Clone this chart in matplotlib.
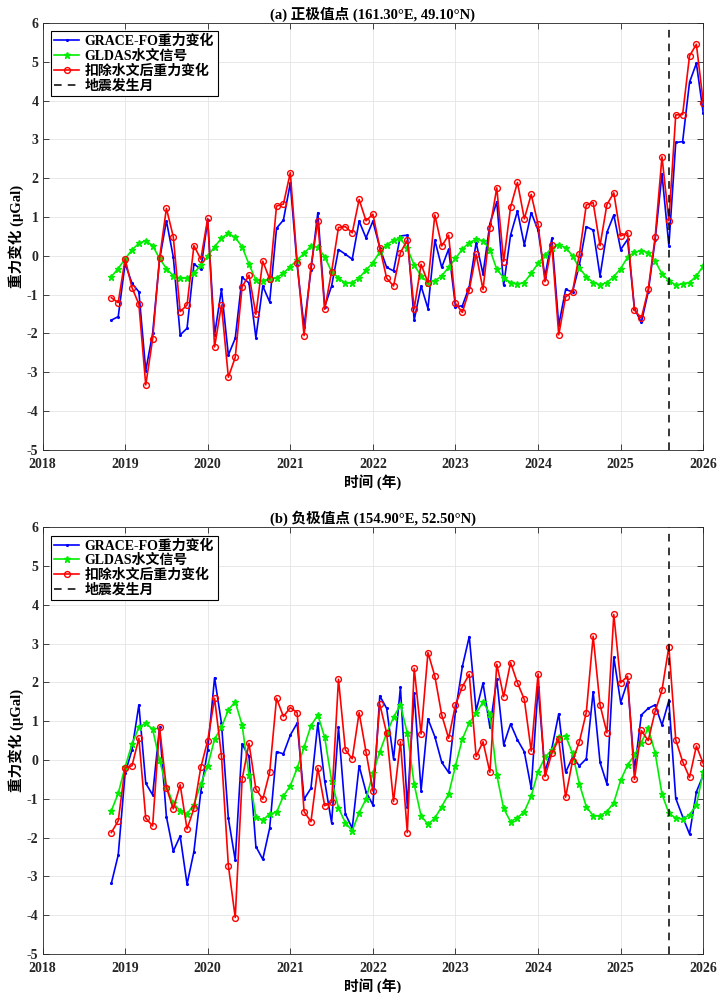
import numpy as np
import pandas as pd
import matplotlib
matplotlib.use('Agg')
import matplotlib.pyplot as plt

plt.rcParams['font.family'] = ['Liberation Serif', 'Noto Sans CJK SC', 'DejaVu Sans']
plt.rcParams['font.weight'] = 'bold'
plt.rcParams['axes.unicode_minus'] = False

# 月份 (Oct 2018 - Dec 2025)
months = pd.period_range('2018-10', '2025-12', freq='M')
eq_month = pd.Period('2025-07', freq='M')

# (a) 正极值点
grace_a = [-1.66, -1.57, -0.20, -0.71, -0.93, -2.96, -2.00, -0.11, 0.90, -0.03,
           -2.04, -1.87, -0.21, -0.35, 0.92, -2.04, -0.87, -2.56, -2.13, -0.56,
           -0.70, -2.11, -0.78, -1.19, 0.71, 0.92, 1.87, -0.25, -1.83, -0.37,
           1.11, -1.31, -0.78, 0.16, 0.04, -0.09, 0.89, 0.46, 0.89, 0.21,
           -0.30, -0.39, 0.51, 0.53, -1.66, -0.78, -1.36, 0.40, -0.30, 0.17,
           -1.31, -1.29, -0.80, 0.34, -0.47, 0.83, 1.39, -0.76, 0.53, 1.15,
           0.28, 1.11, 0.66, -0.54, 0.45, -1.79, -0.87, -0.93, -0.24, 0.75,
           0.66, -0.52, 0.60, 1.05, 0.16, 0.42, -1.36, -1.72, -0.93, 0.40,
           2.11, 0.26, 2.92, 2.94, 4.47, 4.96, 3.67]
gldas_a = [-0.54, -0.33, -0.08, 0.15, 0.32, 0.39, 0.26, -0.07, -0.33, -0.52,
           -0.58, -0.58, -0.45, -0.24, -0.01, 0.23, 0.45, 0.58, 0.47, 0.23,
           -0.22, -0.63, -0.64, -0.60, -0.57, -0.45, -0.28, -0.11, 0.06, 0.25,
           0.22, -0.03, -0.41, -0.57, -0.71, -0.69, -0.57, -0.37, -0.18, 0.10,
           0.28, 0.40, 0.45, 0.19, -0.24, -0.52, -0.69, -0.65, -0.52, -0.30,
           -0.07, 0.17, 0.34, 0.42, 0.39, 0.16, -0.35, -0.57, -0.69, -0.73,
           -0.69, -0.45, -0.20, 0.02, 0.19, 0.28, 0.21, 0.00, -0.32, -0.54,
           -0.69, -0.75, -0.69, -0.54, -0.33, -0.04, 0.09, 0.13, 0.08, -0.13,
           -0.47, -0.64, -0.76, -0.72, -0.69, -0.52, -0.26]
resid_a = [-1.08, -1.21, -0.08, -0.82, -1.25, -3.33, -2.15, -0.07, 1.22, 0.49,
           -1.44, -1.27, 0.26, -0.09, 0.96, -2.35, -1.27, -3.13, -2.62, -0.80,
           -0.50, -1.51, -0.14, -0.60, 1.28, 1.33, 2.14, -0.18, -2.06, -0.27,
           0.89, -1.38, -0.41, 0.73, 0.75, 0.59, 1.45, 0.90, 1.07, 0.21,
           -0.58, -0.78, 0.08, 0.40, -1.37, -0.22, -0.69, 1.05, 0.25, 0.53,
           -1.23, -1.46, -0.88, 0.04, -0.87, 0.71, 1.75, -0.15, 1.25, 1.89,
           0.95, 1.58, 0.81, -0.67, 0.28, -2.04, -1.06, -0.93, 0.04, 1.31,
           1.37, 0.26, 1.32, 1.62, 0.51, 0.59, -1.40, -1.61, -0.87, 0.47,
           2.55, 0.90, 3.63, 3.64, 5.15, 5.45, 3.94]

# (b) 负极值点
grace_b = [-3.18, -2.45, -0.34, 0.26, 1.42, -0.60, -0.90, 0.84, -1.46, -2.35,
           -1.96, -3.20, -2.36, -0.82, 0.26, 2.12, 0.95, -1.50, -2.58, 0.41,
           0.09, -2.23, -2.56, -1.76, 0.21, 0.16, 0.64, 0.95, -1.01, -0.73,
           0.95, -0.55, -1.62, 0.84, -1.39, -1.76, -0.15, -0.82, -1.16, 1.65,
           1.33, 0.02, 1.87, -1.20, 1.73, -0.79, 1.06, 0.60, -0.06, -0.32,
           1.25, 2.41, 3.18, 1.27, 1.98, 0.84, 2.08, 0.39, 0.93, 0.52,
           0.21, -0.73, 1.89, -0.30, 0.30, 1.19, -0.32, 0.07, -0.15, 0.03,
           1.76, -0.06, -0.62, 2.65, 1.48, 2.02, -0.26, 1.16, 1.33, 1.42,
           0.90, 1.53, -0.99, -1.46, -1.91, -0.82, -0.39]
gldas_b = [-1.31, -0.86, -0.18, 0.41, 0.84, 0.95, 0.79, 0.00, -0.69, -1.12,
           -1.31, -1.39, -1.15, -0.62, -0.15, 0.54, 0.84, 1.29, 1.50, 0.90,
           -0.39, -1.46, -1.55, -1.39, -1.35, -0.93, -0.67, -0.21, 0.33, 0.88,
           1.16, 0.58, -0.53, -1.23, -1.62, -1.82, -1.36, -1.01, -0.34, 0.21,
           0.69, 1.10, 1.42, 0.69, -0.63, -1.44, -1.66, -1.50, -1.20, -0.88,
           -0.15, 0.54, 0.96, 1.20, 1.50, 1.19, -0.39, -1.25, -1.59, -1.49,
           -1.33, -0.93, -0.30, 0.07, 0.26, 0.58, 0.62, 0.17, -0.62, -1.20,
           -1.44, -1.44, -1.33, -1.10, -0.52, -0.13, 0.13, 0.45, 0.82, 0.19,
           -0.88, -1.37, -1.50, -1.52, -1.41, -1.16, -0.30]
resid_b = [-1.87, -1.57, -0.20, -0.15, 0.56, -1.50, -1.70, 0.84, -0.71, -1.26,
           -0.64, -1.78, -1.25, -0.19, 0.50, 1.59, 0.11, -2.72, -4.06, -0.50,
           0.43, -0.75, -1.01, -0.32, 1.59, 1.12, 1.35, 1.22, -1.33, -1.59,
           -0.21, -1.18, -1.09, 2.08, 0.26, 0.03, 1.22, 0.21, -0.80, 1.44,
           0.69, -1.07, 0.47, -1.87, 2.36, 0.67, 2.77, 2.16, 1.16, 0.56,
           1.42, 1.89, 2.21, 0.09, 0.47, -0.32, 2.47, 1.63, 2.51, 1.99,
           1.56, 0.23, 2.22, -0.43, 0.17, 0.54, -0.96, -0.02, 0.47, 1.22,
           3.19, 1.42, 0.70, 3.75, 1.99, 2.16, -0.50, 0.76, 0.50, 1.25,
           1.80, 2.92, 0.52, -0.04, -0.45, 0.36, -0.09]

titles = ['(a) 正极值点 (161.30°E, 49.10°N)', '(b) 负极值点 (154.90°E, 52.50°N)']
x_ticks = list(range(2018, 2027))
y_ticks = list(range(-5, 7))

t = months.year + months.month / 12.0
t_eq = eq_month.year + eq_month.month / 12.0

fig = plt.figure(figsize=(7.18, 9.93), dpi=100)
boxes = [[0.0592, 0.5471, 0.9203, 0.4298], [0.0592, 0.0393, 0.9203, 0.4298]]
panels = [(grace_a, gldas_a, resid_a), (grace_b, gldas_b, resid_b)]

for k in range(2):
    ax = fig.add_axes(boxes[k])
    g, h, r = panels[k]
    ax.plot(t, g, '-', color='#0000ff', lw=1.2, marker='.', ms=2.5, label='GRACE-FO重力变化')
    ax.plot(t, h, '-', color='#00ee00', lw=1.2, marker='*', ms=4.5, label='GLDAS水文信号')
    ax.plot(t, r, '-', color='#ff0000', lw=1.2, marker='o', ms=4.2, mfc='none', mew=1.0,
            label='扣除水文后重力变化')
    ax.axvline(t_eq, color='k', ls='--', lw=1.1, dashes=(5, 4), label='地震发生月')

    ax.set_xlim(2018, 2026)
    ax.set_ylim(-5, 6)
    ax.set_xticks(x_ticks)
    ax.set_yticks(y_ticks)
    ax.tick_params(direction='in', top=True, right=True, length=4, width=0.6,
                   labelsize=10, colors='#262626')
    ax.tick_params(axis='x', pad=6)
    ax.tick_params(axis='y', pad=3)
    ax.grid(True, color='#e4e4e4', lw=0.6)
    ax.set_axisbelow(True)
    for s in ax.spines.values():
        s.set_color('#262626')
        s.set_linewidth(0.6)

    ax.set_title(titles[k], fontsize=10.5, fontweight='bold', pad=3)
    ax.set_xlabel('时间 (年)', fontsize=10.5, fontweight='bold', labelpad=2)
    ax.set_ylabel('重力变化 (μGal)', fontsize=10.5, fontweight='bold', labelpad=2)

    leg = ax.legend(loc='upper left', fontsize=10, frameon=True, fancybox=False,
                    edgecolor='k', framealpha=1, borderpad=0.25, labelspacing=0.1,
                    handlelength=1.8, handletextpad=0.4, borderaxespad=0.6)
    leg.get_frame().set_linewidth(0.8)

fig.savefig('out.png', dpi=100)
